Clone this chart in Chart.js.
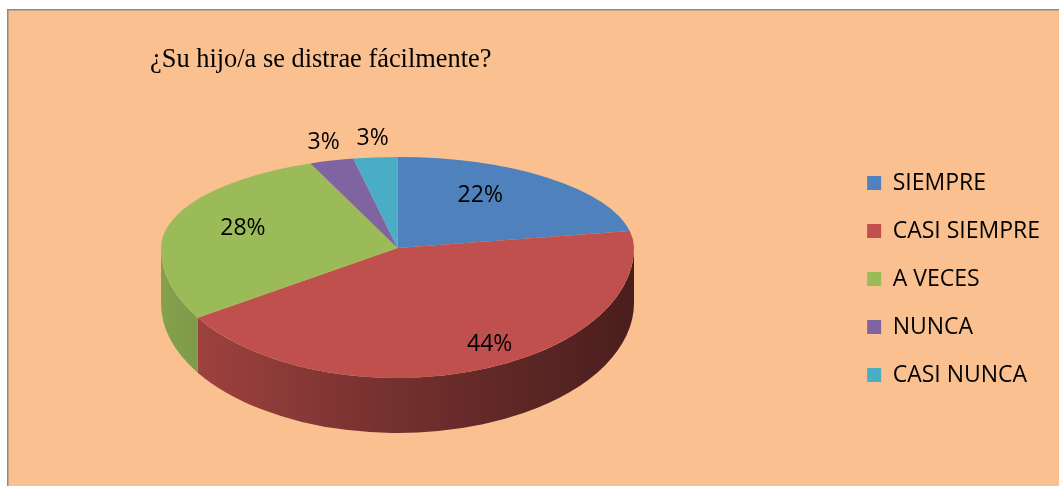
<!DOCTYPE html>
<html>
<head>
<meta charset="utf-8">
<script src="https://cdn.jsdelivr.net/npm/chart.js@4.4.1/dist/chart.umd.min.js"></script>
<style>
  html, body { margin: 0; padding: 0; background: #ffffff; }
  #wrap { width: 1059px; height: 486px; }
</style>
</head>
<body>
<div id="wrap"><canvas id="c" width="1059" height="486"></canvas></div>
<script>
// ---- data ----
const titleText = '¿Su hijo/a se distrae fácilmente?';
const categories = ['SIEMPRE', 'CASI SIEMPRE', 'A VECES', 'NUNCA', 'CASI NUNCA'];
const values = [22, 44, 28, 3, 3];
const colors = ['#4F81BD', '#C0504D', '#9BBB59', '#8064A2', '#4BACC6'];

// ---- styling / geometry of the pseudo-3D view ----
const PANEL = '#FAC090';
const G = { cx: 397.5, cy: 248, rx: 236.5, ryT: 91, ryB: 130, depth: 55 };
const LABEL_FONT = '23px "Open Sans"';

function shade(hex, k) {
  const n = parseInt(hex.slice(1), 16);
  const r = Math.round(((n >> 16) & 255) * k);
  const g = Math.round(((n >> 8) & 255) * k);
  const b = Math.round((n & 255) * k);
  return 'rgb(' + r + ',' + g + ',' + b + ')';
}

function applyT(ctx, arc, ry) {
  ctx.translate(G.cx, G.cy);
  ctx.scale(G.rx / arc.outerRadius, ry / arc.outerRadius);
  ctx.translate(-arc.x, -arc.y);
}

const pie3d = {
  id: 'pie3d',
  beforeDraw(chart) {
    const c = chart.ctx;
    c.save();
    c.fillStyle = '#ffffff';
    c.fillRect(0, 0, chart.width, chart.height);
    c.fillStyle = PANEL;
    c.fillRect(8, 10, chart.width, chart.height);
    c.strokeStyle = '#8a8a8a';
    c.lineWidth = 1.5;
    c.beginPath();
    c.moveTo(7.75, chart.height);
    c.lineTo(7.75, 9.75);
    c.lineTo(chart.width, 9.75);
    c.stroke();
    c.restore();
  },
  beforeDatasetsDraw(chart) {
    const ctx = chart.ctx;
    const meta = chart.getDatasetMeta(0);
    meta.data.forEach((arc) => {
      const s = Math.max(arc.startAngle, 0);
      const e = Math.min(arc.endAngle, Math.PI);
      if (e <= s) return;
      const col = arc.options.backgroundColor;
      const g = ctx.createLinearGradient(G.cx - G.rx, 0, G.cx + G.rx, 0);
      g.addColorStop(0, shade(col, 0.86));
      g.addColorStop(0.5, shade(col, 0.6));
      g.addColorStop(1, shade(col, 0.38));
      ctx.beginPath();
      ctx.ellipse(G.cx, G.cy, G.rx, G.ryB, 0, s, e, false);
      ctx.ellipse(G.cx, G.cy + G.depth, G.rx, G.ryB, 0, e, s, true);
      ctx.closePath();
      ctx.fillStyle = g;
      ctx.fill();
    });
    ctx.save();
    ctx.beginPath();
    ctx.rect(0, 0, chart.width, G.cy);
    ctx.clip();
    applyT(ctx, meta.data[0], G.ryT);
  },
  afterDatasetsDraw(chart) {
    const ctx = chart.ctx;
    const meta = chart.getDatasetMeta(0);
    ctx.restore();
    ctx.save();
    ctx.beginPath();
    ctx.rect(0, G.cy, chart.width, chart.height - G.cy);
    ctx.clip();
    applyT(ctx, meta.data[0], G.ryB);
    meta.data.forEach((arc) => arc.draw(ctx));
    ctx.restore();

    // data labels
    const data = chart.data.datasets[0].data;
    const total = data.reduce((a, b) => a + b, 0);
    ctx.save();
    ctx.font = LABEL_FONT;
    ctx.fillStyle = '#000000';
    ctx.textAlign = 'center';
    ctx.textBaseline = 'middle';
    meta.data.forEach((arc, i) => {
      const pct = data[i] / total * 100;
      const mid = (arc.startAngle + arc.endAngle) / 2;
      const c = Math.cos(mid), s = Math.sin(mid);
      const ry = s < 0 ? G.ryT : G.ryB;
      let x, y;
      if (pct >= 5) {
        x = G.cx + G.rx * c * (0.78 + 0.3 * s);
        y = G.cy + ry * 0.78 * s;
      } else {
        x = G.cx + G.rx * 1.12 * c;
        y = G.cy + ry * 1.23 * s;
      }
      ctx.fillText(Math.round(pct) + '%', x, y + 2);
    });
    ctx.restore();
  }
};

Chart.defaults.font.family = '"Open Sans"';

new Chart(document.getElementById('c'), {
  type: 'pie',
  data: {
    labels: categories,
    datasets: [{
      data: values,
      backgroundColor: colors,
      borderWidth: 0,
      hoverOffset: 0,
      clip: false
    }]
  },
  options: {
    responsive: false,
    devicePixelRatio: 1,
    animation: false,
    events: [],
    layout: { padding: { top: 44, left: 150, right: 9, bottom: 3.7 } },
    plugins: {
      tooltip: { enabled: false },
      title: {
        display: true,
        text: titleText,
        align: 'start',
        color: '#000000',
        font: { family: '"Liberation Serif"', size: 26.4, weight: 'normal', lineHeight: 1.2 },
        padding: { top: 0, bottom: 0 }
      },
      legend: {
        position: 'right',
        align: 'center',
        fullSize: false,
        labels: {
          color: '#000000',
          font: { family: '"Open Sans"', size: 23 },
          boxWidth: 14,
          boxHeight: 14,
          padding: 25
        }
      }
    }
  },
  plugins: [pie3d]
});
</script>
</body>
</html>
